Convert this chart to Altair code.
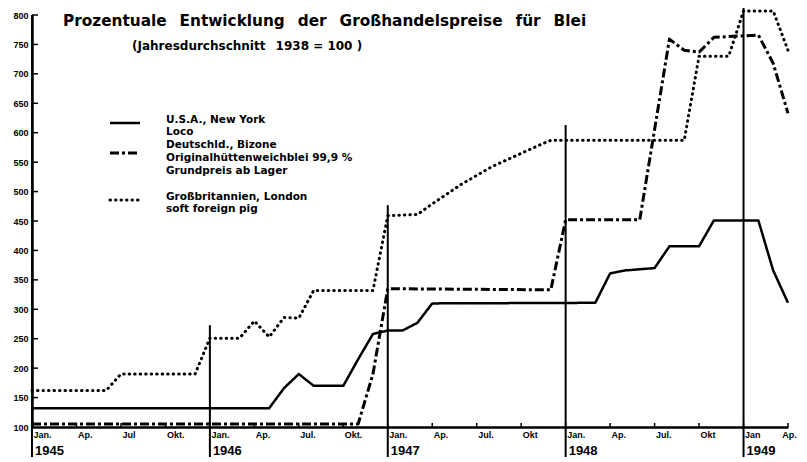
import json
import altair as alt
import pandas as pd

# month index: 0 = Jan 1945
usa_m = [0, 16, 17, 18, 19, 21, 22, 23, 24, 25, 26, 27, 38, 39, 40, 42, 43, 45, 46, 49, 50, 51]
usa_v = [132, 132, 166, 190, 170, 170, 215, 258, 264, 264, 277, 310, 311, 361, 366, 370, 407, 407, 451, 451, 366, 311]

ger_m = [0, 22, 23, 24, 35, 36, 41, 43, 44, 45, 46, 49, 50, 51]
ger_v = [105, 105, 190, 335, 333, 452, 452, 759, 740, 737, 762, 766, 718, 633]

gb_m = [0, 5, 6, 11, 12, 14, 15, 16, 17, 18, 19, 23, 24, 26, 27, 29, 31, 33, 34.5, 35, 44, 45, 47, 48, 50, 51]
gb_v = [162, 162, 190, 190, 251, 251, 280, 253, 286, 285, 332, 332, 459, 461, 479, 513, 542, 565, 582, 587, 587, 730, 730, 807, 807, 740]

y_ticks = list(range(100, 801, 50))
q_ticks = list(range(0, 52, 3))
month_labels = ["Jan.", "Ap.", "Jul", "Okt.", "Jan.", "Ap.", "Jul.", "Okt.", "Jan.", "Ap.", "Jul.", "Okt",
                "Jan.", "Ap.", "Jul.", "Okt", "Jan", "Ap."]
year_m = [0, 12, 24, 36, 48]
year_labels = ["1945", "1946", "1947", "1948", "1949"]
jan_tops = [800, 273, 477, 613, 820]

SP = " \u2002"
title_words = ["Prozentuale", "Entwicklung", "der", "Großhandelspreise", "für", "Blei"]
subtitle_words = ["(Jahresdurchschnitt", "1938 = 100 )"]

leg_usa = ["U.S.A., New York", "Loco"]
leg_ger = ["Deutschld., Bizone", "Originalhüttenweichblei  99,9 %", "Grundpreis ab Lager"]
leg_gb = ["Großbritannien, London", "soft foreign pig"]

W, H = 756, 412
FONT = "DejaVu Sans"
LIB = "Liberation Sans"
NARROW = "'Liberation Sans Narrow', 'Liberation Sans', sans-serif"

xs = alt.Scale(domain=[0, 51], nice=False, zero=False)
ys = alt.Scale(domain=[100, 800], nice=False, zero=False)

x_axis = alt.Axis(values=q_ticks, labelExpr=f"{json.dumps(month_labels)}[round(datum.value/3)]",
                  labelAlign={"condition": {"test": "datum.value >= 51", "value": "center"}, "value": "left"},
                  labelOffset=1, labelPadding=3, labelFontSize=9,
                  labelFontWeight="bold", labelFont=NARROW, labelColor="black",
                  labelOverlap=False, labelBound=False,
                  ticks=False, grid=False, domainColor="black", domainWidth=2.5)
y_axis = alt.Axis(values=y_ticks, labelFontSize=9, labelFontWeight="bold", labelFont=LIB,
                  labelColor="black", labelPadding=4, ticks=False, grid=False,
                  labelOverlap=False, domainColor="black", domainWidth=2.5)


def X():
    return alt.X("m:Q", scale=xs, title="", axis=x_axis)


def Y():
    return alt.Y("v:Q", scale=ys, title="", axis=y_axis)


def series(ms, vs, dash, width, cap="butt"):
    d = pd.DataFrame({"m": ms, "v": vs})
    return alt.Chart(d).mark_line(color="black", strokeWidth=width, strokeDash=dash,
                                   strokeCap=cap, strokeJoin="round").encode(x=X(), y=Y())


jan_df = pd.DataFrame({"m": year_m, "v": jan_tops, "year": year_labels})
jan_rules = alt.Chart(jan_df).mark_rule(color="black", strokeWidth=2).encode(
    x=X(), y=Y(), y2=alt.value(H + 30))
years = alt.Chart(jan_df).mark_text(align="left", baseline="middle", dx=3, fontSize=13,
                                    fontWeight="bold", font=LIB, color="black").encode(
    x=X(), y=alt.value(H + 24), text="year:N")

ytick_df = pd.DataFrame({"v": y_ticks[1:]})
yticks = alt.Chart(ytick_df).mark_rule(color="black", strokeWidth=1.5).encode(
    y=Y(), x=alt.value(0), x2=alt.value(6))
qtick_df = pd.DataFrame({"m": q_ticks})
qticks = alt.Chart(qtick_df).mark_rule(color="black", strokeWidth=1.5).encode(
    x=X(), y=alt.value(H), y2=alt.value(H - 4))


def text_at(t, x, y, size, font=FONT):
    return alt.Chart(pd.DataFrame({"t": [t]})).mark_text(
        align="left", baseline="middle", fontSize=size, fontWeight="bold", font=font,
        color="black").encode(x=alt.value(x), y=alt.value(y), text="t:N")


title = text_at(SP.join(title_words), 31, 6, 15.3)
subtitle = text_at(SP.join(subtitle_words), 100, 31, 12)


def legend_text(lines, y0, step):
    return [text_at(t, 134, y0 + i * step, 10.5) for i, t in enumerate(lines)]


def legend_line(y, dash, width, cap="butt"):
    return alt.Chart(pd.DataFrame({"a": [0]})).mark_rule(color="black", strokeWidth=width,
                                                         strokeDash=dash, strokeCap=cap).encode(
        x=alt.value(78), x2=alt.value(108), y=alt.value(y))


dash_solid = [1, 0]
dash_dd = [9, 3, 3, 3]
dash_dot = [0.5, 5]

layers = [
    jan_rules, yticks, qticks, years,
    series(usa_m, usa_v, dash_solid, 2.5),
    series(ger_m, ger_v, dash_dd, 3),
    series(gb_m, gb_v, dash_dot, 3, "round"),
    title, subtitle,
    legend_line(108, dash_solid, 2.5),
    legend_line(138, dash_dd, 3),
    legend_line(185, dash_dot, 3, "round"),
]
layers += legend_text(leg_usa, 105, 12)
layers += legend_text(leg_ger, 130, 13)
layers += legend_text(leg_gb, 182, 12)

chart = alt.layer(*layers).properties(
    width=W, height=H,
    autosize=alt.AutoSizeParams(type="none"),
    padding={"left": 24, "top": 7, "right": 11, "bottom": 30},
    background="white",
).configure_view(strokeWidth=0).configure_axis(labelOverlap=False)

chart.save("out.html", embed_options={"renderer": "svg", "actions": False})
